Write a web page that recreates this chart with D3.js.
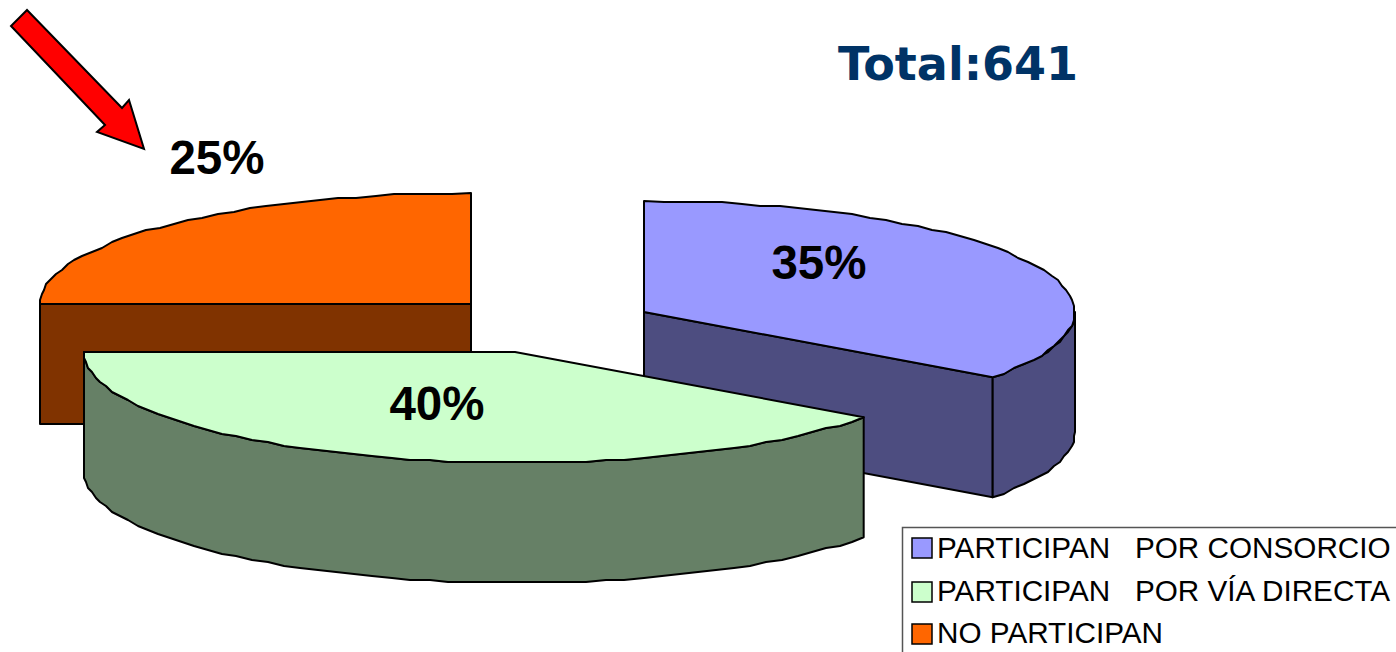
<!DOCTYPE html>
<html><head><meta charset="utf-8">
<style>html,body{margin:0;padding:0;background:#fff;overflow:hidden}svg{display:block}</style>
<script src="https://cdn.jsdelivr.net/npm/d3@7/dist/d3.min.js"></script>
</head><body><svg id="c" width="1396" height="652"></svg>
<script>
const categories = ["PARTICIPAN   POR CONSORCIO", "PARTICIPAN   POR VÍA DIRECTA", "NO PARTICIPAN"];
const values = [35, 40, 25];
const topColors = ["#9999ff", "#ccffcc", "#ff6600"];
const sideColors = ["#4d4d80", "#668066", "#803300"];
const totalLabel = "Total:641";

// layout
const rx = 431, ry = 111, depth = 120;
const centers = [[644, 312], [515, 352], [471, 304]];
const labelPos = [[819, 279], [437, 420], [217, 174]];
const arrowPts = [[27,10],[11,26],[105,125],[97,132],[144,149],[129,100],[122,108]];
const legendBox = {x:902.5, y:527.5, w:500, h:140};
const swatchX = 912, swatchY = [538, 582, 624], legendTextX = 937, legendBase = [558, 601, 643];

const svg = d3.select("#c");
const arcs = d3.pie().sort(null).value(d => d)(values);
const line = d3.line();
const TAU = Math.PI * 2;

function ellipse(i, a, dy = 0) {
  const [cx, cy] = centers[i];
  return [cx + rx * Math.sin(a), cy + dy - ry * Math.cos(a)];
}
function arcPts(i, a0, a1, dy = 0) {
  const n = Math.max(1, Math.round(Math.abs(a1 - a0) / (2.6 * Math.PI / 180)));
  const t = d3.range(n + 1).map(k => a0 + (a1 - a0) * k / n);
  return t.map((a, k) => {
    const p = ellipse(i, a, dy);
    return (k === 0 || k === n) ? p : [Math.round(p[0] / 2) * 2, Math.round(p[1] / 2) * 2];
  });
}
const stroke = {stroke:"#000", w:2};
function poly(pts, fill) {
  svg.append("path").attr("d", line(pts) + "Z").attr("fill", fill)
    .attr("stroke", stroke.stroke).attr("stroke-width", stroke.w).attr("stroke-linejoin", "round");
}
function drawSlice(i) {
  const a0 = arcs[i].startAngle, a1 = arcs[i].endAngle;
  const c = centers[i];
  // radial wall at the end or start angle, when it faces the viewer
  const rim = (a) => ellipse(i, a);
  if (a1 < Math.PI) {
    const e = rim(a1);
    poly([c, e, [e[0], e[1] + depth], [c[0], c[1] + depth]], sideColors[i]);
  }
  if (a0 >= Math.PI) {
    const s = rim(a0);
    poly([c, s, [s[0], s[1] + depth], [c[0], c[1] + depth]], sideColors[i]);
  }
  // outer rim wall on the front half
  const f0 = Math.max(a0, Math.PI / 2), f1 = Math.min(a1, 3 * Math.PI / 2);
  if (f1 > f0) {
    poly([...arcPts(i, f0, f1), ...arcPts(i, f1, f0, depth)], sideColors[i]);
  }
  poly([c, ...arcPts(i, a0, a1)], topColors[i]);
}
[0, 2, 1].forEach(drawSlice);

// percentage labels
const total = d3.sum(values);
svg.selectAll("text.pct").data(values).join("text").attr("class", "pct")
  .attr("x", (d, i) => labelPos[i][0]).attr("y", (d, i) => labelPos[i][1])
  .attr("text-anchor", "middle")
  .attr("font-family", "'Liberation Sans',Arial,sans-serif").attr("font-weight", 700).attr("font-size", 47.5)
  .text(d => Math.round(d / total * 100) + "%");

// arrow
svg.append("path").attr("d", line(arrowPts) + "Z").attr("fill", "#ff0000")
  .attr("stroke", "#000").attr("stroke-width", 2).attr("stroke-linejoin", "miter");

// title
svg.append("text").attr("x", 838).attr("y", 80)
  .attr("font-family", "'DejaVu Sans',Verdana,sans-serif").attr("font-weight", 700).attr("font-size", 46)
  .attr("fill", "#003366").text(totalLabel);

// legend
svg.append("rect").attr("x", legendBox.x).attr("y", legendBox.y).attr("width", legendBox.w).attr("height", legendBox.h)
  .attr("fill", "#fff").attr("stroke", "#555").attr("stroke-width", 1.5);
const lg = svg.selectAll("g.lg").data(categories).join("g").attr("class", "lg");
lg.append("rect").attr("x", swatchX).attr("y", (d, i) => swatchY[i]).attr("width", 20).attr("height", 20)
  .attr("fill", (d, i) => topColors[i]).attr("stroke", "#000").attr("stroke-width", 1.5);
lg.append("text").attr("x", legendTextX).attr("y", (d, i) => legendBase[i])
  .attr("font-family", "'Liberation Sans',Arial,sans-serif").attr("font-size", 29.7)
  .attr("xml:space", "preserve").style("white-space", "pre").text(d => d);
</script></body></html>
